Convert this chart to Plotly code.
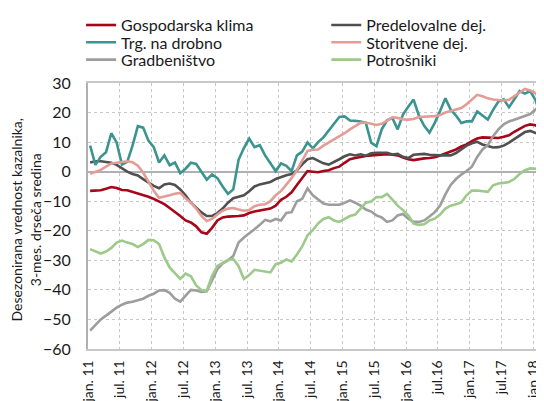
import plotly.graph_objects as go

# monthly values, jan 2011 - feb 2018
months = list(range(86))

tick_pos = list(range(0, 86, 6))
tick_text = ["jan. 11", "jul. 11", "jan. 12", "jul. 12", "jan. 13", "jul. 13",
             "jan. 14", "jul. 14", "jan. 15", "jul. 15", "jan. 16", "jul.16",
             "jan.17", "jul.17", "jan.18"]

gospodarska_klima = [
    -6.5, -6.5, -6.3, -5.8, -5.2, -5.5, -6.2, -6.3, -6.8, -7.5,
    -7.8, -8.5, -9.2, -10.0, -11.0, -12.3, -13.5, -15.0, -16.5, -17.2,
    -18.5, -20.5, -21.0, -19.0, -16.5, -15.5, -15.2, -15.2, -15.0, -14.8,
    -14.0, -13.5, -13.2, -13.0, -12.5, -11.5, -9.5, -8.5, -7.0, -4.5,
    -2.0, 0.2, 0.0, -0.2, 0.2, 0.5, 1.2, 1.7, 3.0, 4.2,
    4.6, 5.0, 5.3, 5.5, 5.6, 5.7, 5.9, 5.7, 5.5, 4.8,
    4.2, 3.9, 4.3, 4.5, 4.6, 4.9, 5.5, 6.2, 6.8, 7.5,
    8.5, 9.2, 10.3, 11.2, 11.6, 11.5, 11.3, 11.4, 11.8, 12.3,
    13.5, 14.5, 15.5, 16.0, 15.7, 14.3,
]

predelovalne = [
    3.1, 3.5, 3.5, 3.3, 3.0, 2.3, 1.2, 0.0, -0.8, -1.3,
    -2.5, -3.8, -4.8, -5.6, -4.3, -4.0, -4.5, -6.0, -8.0, -10.5,
    -12.2, -13.8, -15.0, -15.0, -14.0, -12.5, -10.5, -9.0, -8.5, -8.0,
    -6.6, -5.0, -4.3, -4.0, -3.5, -2.5, -1.8, -1.2, -0.8, 0.5,
    2.5, 4.2, 4.6, 3.8, 2.8, 2.4, 3.2, 4.2, 5.2, 5.9,
    5.5, 5.9, 5.4, 6.2, 6.4, 6.4, 6.4, 5.8, 6.0, 5.0,
    4.6, 5.7, 5.9, 6.0, 5.7, 5.5, 5.5, 5.5, 5.5, 6.3,
    7.7, 8.8, 9.6, 10.1, 9.2, 8.6, 8.2, 8.3, 8.8, 9.8,
    11.0, 12.3, 13.4, 13.8, 13.2, 12.4,
]

trg_na_drobno = [
    8.8, 2.3, 5.0, 6.6, 13.0, 9.9, 2.4, 3.3, 8.8, 15.4,
    14.9, 10.5, 8.3, 3.1, 5.5, 2.2, 3.1, -0.5, 1.0, 3.0,
    2.6, 0.0, -2.7, -0.9, -2.2, -5.0, -7.5, -6.0, 4.0, 8.0,
    11.2, 8.3, 9.0, 5.5, 3.0, 0.2, 2.8, 2.0, 0.2, 5.5,
    6.8, 9.9, 7.9, 10.0, 11.6, 14.0, 16.5, 18.5, 18.7, 17.3,
    17.2, 17.0, 16.5, 9.8, 8.6, 14.3, 17.4, 18.2, 14.3, 19.3,
    22.0, 24.4, 19.0, 15.5, 13.2, 16.5, 20.5, 24.8, 21.0, 19.0,
    16.5, 17.0, 17.0, 20.4, 19.0, 17.6, 20.9, 23.7, 24.5, 21.8,
    24.5, 27.3, 26.4, 27.3, 24.2, 18.9,
]

storitvene = [
    -0.7, 0.0, 0.6, 1.7, 2.8, 3.0, 3.2, 3.5, 3.2, 2.0,
    -0.3, -3.5, -6.5, -8.8, -8.5, -8.0, -7.5, -7.2, -9.0, -10.5,
    -12.5, -15.0, -16.7, -16.0, -14.5, -13.2, -12.5, -12.3, -12.8, -13.2,
    -13.0, -11.7, -11.2, -11.0, -10.0, -8.0, -6.6, -4.5, -2.2, 0.5,
    4.0, 7.0, 7.4, 7.5, 8.8, 9.8, 10.8, 11.8, 13.0, 14.3,
    15.5, 16.5, 16.6, 16.2, 15.8, 16.2, 17.2, 18.4, 18.2, 17.7,
    17.6, 17.8, 18.5, 18.6, 18.6, 18.8, 19.2, 20.0, 20.5, 21.0,
    21.5, 22.8, 24.5, 26.0, 25.5, 24.8, 24.4, 24.2, 24.1, 24.3,
    25.5, 27.0, 28.0, 27.5, 26.5, 24.2,
]

gradbenistvo = [
    -53.8, -52.0, -50.0, -48.7, -47.2, -46.0, -45.0, -44.3, -44.0, -43.6,
    -43.0, -42.0, -41.3, -40.2, -40.1, -41.0, -43.0, -44.0, -42.0, -40.0,
    -40.2, -40.7, -40.5, -37.0, -33.0, -31.0, -30.0, -28.5, -24.0, -22.3,
    -21.0, -19.5, -18.0, -16.3, -16.8, -16.0, -16.5, -14.0, -13.7, -10.0,
    -9.2, -5.7, -8.0, -9.3, -10.8, -11.2, -11.2, -11.2, -10.5, -9.7,
    -10.5, -11.5, -12.8, -13.5, -14.8, -15.5, -17.0, -16.5, -14.8, -14.3,
    -15.9, -17.0, -17.0, -16.5, -15.2, -13.7, -11.5, -7.7, -4.5, -2.5,
    -1.0, 0.2, 1.7, 5.0, 7.5, 9.0, 12.0, 14.3, 16.0, 17.0,
    17.6, 18.2, 18.9, 19.5, 21.0, 22.9,
]

potrosniki = [
    -26.2, -27.0, -27.7, -27.0, -25.8, -24.0, -23.3, -24.0, -24.5, -25.5,
    -24.5, -23.1, -23.2, -24.5, -29.0, -32.4, -34.5, -36.3, -34.5, -35.4,
    -38.5, -40.1, -40.3, -35.2, -31.9, -30.8, -29.9, -29.5, -32.0, -36.3,
    -35.0, -33.2, -33.5, -33.8, -34.1, -31.3, -30.8, -29.7, -30.4, -28.0,
    -25.3, -21.5, -19.8, -17.5, -16.0, -15.4, -16.5, -17.0, -16.0, -15.0,
    -14.5, -12.6, -10.5, -10.1, -8.6, -8.6, -7.5, -9.5, -11.5, -13.0,
    -14.8, -17.6, -18.0, -17.8, -16.5, -15.9, -14.5, -12.5, -11.5, -11.0,
    -10.4, -8.0, -6.4, -6.4, -6.6, -6.8, -4.6, -4.0, -3.8, -3.5,
    -2.5, -0.8, 0.5, 1.1, 1.0, 0.0,
]

# name, values, colour, legend slot (col, row)
series = [
    ("Gospodarska klima", gospodarska_klima, "#a6051a", 0, 0),
    ("Predelovalne dej.", predelovalne, "#505050", 1, 0),
    ("Trg. na drobno", trg_na_drobno, "#3b9490", 0, 1),
    ("Storitvene dej.", storitvene, "#e39c96", 1, 1),
    ("Gradbeništvo", gradbenistvo, "#9d9d9d", 0, 2),
    ("Potrošniki", potrosniki, "#9dc98a", 1, 2),
]

FONT = "Lato, 'Open Sans', sans-serif"
LEG_X = [-0.0152, 0.5225]
LEG_Y = [1.2815, 1.2165, 1.1515]
# gridlines sit on month boundaries, points in the middle of the month
OFFSET = 0.4

fig = go.Figure()
legends = {}
for i, (name, vals, color, col, row) in enumerate(series):
    key = "legend" if i == 0 else f"legend{i + 1}"
    fig.add_trace(go.Scatter(
        x=months, y=vals, name=name, mode="lines",
        line=dict(color=color, width=2.6), legend=key,
    ))
    legends[key] = dict(
        x=LEG_X[col], y=LEG_Y[row], xanchor="left", yanchor="top",
        font=dict(size=16), bgcolor="rgba(0,0,0,0)", itemwidth=30,
    )

# the page body has an 8px margin, so the figure is 8px smaller each way
fig.update_layout(
    width=536, height=393,
    margin=dict(l=80, r=0, t=68, b=52),
    paper_bgcolor="white", plot_bgcolor="white",
    font=dict(family=FONT, size=15, color="#1a1a1a"),
    showlegend=True,
    annotations=[dict(
        text="Desezonirana vrednost kazalnika,<br>3-mes. drseča sredina",
        xref="paper", yref="paper", x=-0.135, y=0.485,
        xanchor="center", yanchor="middle", textangle=-90,
        showarrow=False, font=dict(size=14),
    )],
    **legends,
)

fig.update_xaxes(
    range=[-OFFSET, 86 - OFFSET], tickmode="array",
    tickvals=[t - OFFSET for t in tick_pos], ticktext=tick_text,
    tickangle=-90, tickfont=dict(size=14), automargin=False,
    showgrid=True, gridcolor="#c8c8c8", griddash="dot", gridwidth=1,
    showline=True, linecolor="#c8c8c8", linewidth=1.5, mirror=True,
    zeroline=False, ticks="", ticklabelstandoff=4,
)
fig.update_yaxes(
    range=[-60, 30], dtick=10, tickfont=dict(size=16), automargin=False,
    showgrid=True, gridcolor="#c8c8c8", griddash="dot", gridwidth=1,
    showline=True, linecolor="#b0b0b0", linewidth=2, mirror=True,
    zeroline=True, zerolinecolor="#b0b0b0", zerolinewidth=1.5,
    ticks="", ticklabelstandoff=12,
)

fig.write_html("out.html")
